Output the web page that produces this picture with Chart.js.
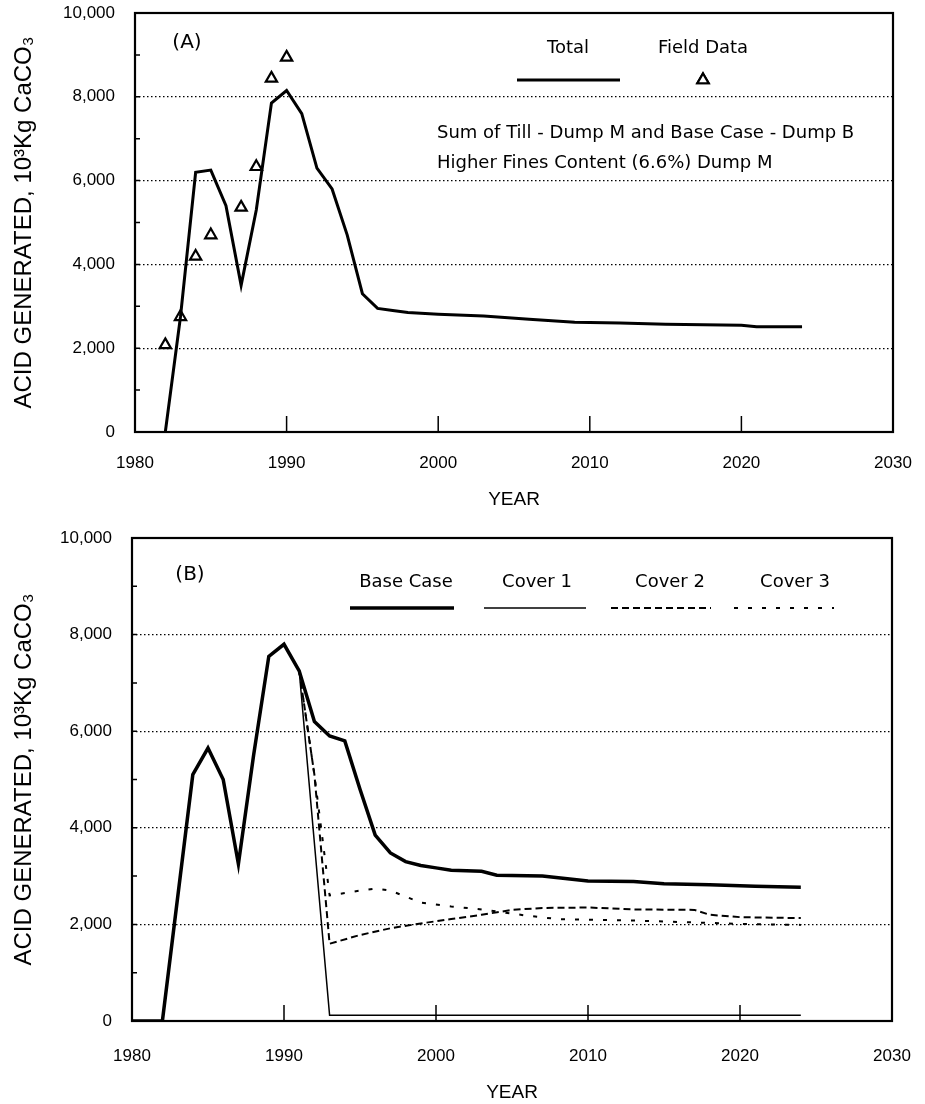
<!DOCTYPE html>
<html>
<head>
<meta charset="utf-8">
<script src="https://cdn.jsdelivr.net/npm/chart.js@4.4.0/dist/chart.umd.min.js"></script>
<style>
  body { margin: 0; background: #fff; width: 925px; height: 1104px; position: relative; overflow: hidden; }
  .box { position: absolute; left: 0; width: 925px; }
  #boxA { top: 0; height: 530px; }
  #boxB { top: 530px; height: 574px; }
</style>
</head>
<body>
<div class="box" id="boxA"><canvas id="chartA"></canvas></div>
<div class="box" id="boxB"><canvas id="chartB"></canvas></div>
<script>
// panel (A) - total and field data
const yearsTotal = [1982, 1983, 1984, 1985, 1986, 1987, 1988, 1989, 1990, 1991, 1992, 1993, 1994, 1995, 1996, 1997, 1998, 2000, 2003, 2006, 2009, 2012, 2015, 2020, 2021, 2024];
const total = [0, 2750, 6200, 6250, 5400, 3500, 5300, 7850, 8150, 7600, 6300, 5800, 4700, 3300, 2950, 2900, 2850, 2810, 2770, 2690, 2620, 2600, 2570, 2550, 2510, 2510];
const yearsField = [1982, 1983, 1984, 1985, 1987, 1988, 1989, 1990];
const fieldData = [2080, 2750, 4190, 4700, 5360, 6330, 8440, 8940];

// panel (B) - base case and covers
const yearsBase = [1980, 1981, 1982, 1984, 1985, 1986, 1987, 1988, 1989, 1990, 1991, 1992, 1993, 1994, 1995, 1996, 1997, 1998, 1999, 2000, 2001, 2003, 2004, 2007, 2010, 2013, 2015, 2018, 2021, 2024];
const baseCase = [0, 0, 0, 5100, 5650, 5000, 3250, 5500, 7550, 7800, 7250, 6200, 5900, 5800, 4800, 3850, 3480, 3300, 3220, 3170, 3120, 3100, 3020, 3000, 2900, 2890, 2840, 2820, 2790, 2770];
const yearsCover1 = [1991, 1993, 2024];
const cover1 = [7250, 120, 120];
const yearsCover2 = [1991, 1992, 1993, 1995, 1997, 1999, 2001, 2003, 2005, 2007, 2010, 2013, 2017, 2018, 2020, 2024];
const cover2 = [7250, 5100, 1600, 1780, 1920, 2020, 2110, 2200, 2300, 2340, 2350, 2310, 2300, 2200, 2150, 2130];
const yearsCover3 = [1991, 1992, 1993, 1995, 1996, 1997, 1999, 2001, 2003, 2006, 2008, 2013, 2020, 2024];
const cover3 = [7250, 5100, 2600, 2700, 2740, 2700, 2450, 2370, 2310, 2180, 2110, 2080, 2010, 1990];

const yTicks = [0, 2000, 4000, 6000, 8000, 10000];
const xTicks = [1980, 1990, 2000, 2010, 2020, 2030];

const tickFont = { family: 'Liberation Sans, Arial, sans-serif', size: 17 };
const labelFont = 'DejaVu Sans, Verdana, sans-serif';

function pts(xs, ys) {
  return xs.map((x, i) => ({ x: x, y: ys[i] }));
}

// frame, inside tick marks, legend and notes
const decor = {
  id: 'decor',
  afterDraw(chart, args, opts) {
    const { ctx, chartArea: a, scales: { x, y } } = chart;
    ctx.save();
    ctx.strokeStyle = '#000';
    ctx.fillStyle = '#000';
    ctx.lineWidth = 1.5;
    ctx.beginPath();
    for (let v = 1000; v < 10000; v += 1000) {
      const py = y.getPixelForValue(v);
      ctx.moveTo(a.left, py);
      ctx.lineTo(a.left + 5, py);
    }
    for (let i = 1; i < xTicks.length - 1; i++) {
      const px = x.getPixelForValue(xTicks[i]);
      ctx.moveTo(px, a.bottom);
      ctx.lineTo(px, a.bottom - 16);
    }
    ctx.stroke();
    ctx.lineWidth = 2.2;
    ctx.strokeRect(a.left, a.top, a.right - a.left, a.bottom - a.top);

    ctx.textAlign = 'center';
    ctx.textBaseline = 'middle';
    ctx.font = '20px ' + labelFont;
    ctx.fillText(opts.panel, opts.panelX, opts.panelY);

    ctx.font = '18px ' + labelFont;
    opts.items.forEach(it => {
      const ds = chart.data.datasets[it.ds];
      ctx.fillText(ds.label, it.cx, opts.textY);
      if (it.marker) {
        ctx.save();
        ctx.lineWidth = ds.borderWidth;
        Chart.helpers.drawPoint(ctx, { pointStyle: 'triangle', radius: ds.pointRadius, borderWidth: ds.borderWidth }, it.cx, opts.lineY);
        ctx.fillStyle = '#fff';
        ctx.strokeStyle = '#000';
        ctx.fill();
        ctx.stroke();
        ctx.restore();
      } else {
        ctx.save();
        ctx.lineWidth = ds.borderWidth;
        ctx.setLineDash(ds.borderDash || []);
        ctx.beginPath();
        ctx.moveTo(it.x1, opts.lineY);
        ctx.lineTo(it.x2, opts.lineY);
        ctx.stroke();
        ctx.restore();
      }
    });

    ctx.textAlign = 'left';
    (opts.notes || []).forEach(n => ctx.fillText(n.text, n.x, n.y));
    ctx.restore();
  }
};

function makeOptions(cfg) {
  return {
    responsive: true,
    maintainAspectRatio: false,
    animation: false,
    layout: { padding: { left: 0, right: cfg.right, top: cfg.top, bottom: 0 } },
    plugins: {
      legend: { display: false },
      tooltip: { enabled: false },
      decor: cfg.decor
    },
    scales: {
      x: {
        type: 'linear',
        min: 1980,
        max: 2030,
        afterBuildTicks: s => { s.ticks = xTicks.map(v => ({ value: v })); },
        ticks: { font: tickFont, color: '#000', padding: cfg.xPad, maxRotation: 0, callback: v => String(v) },
        grid: { display: false, drawTicks: false },
        border: { display: false },
        title: { display: true, text: 'YEAR', color: '#000', font: { family: tickFont.family, size: 19 }, padding: { top: 0, bottom: cfg.titlePad } },
        afterFit: s => { s.height = cfg.xHeight; s.paddingLeft = 0; s.paddingRight = 0; }
      },
      y: {
        min: 0,
        max: 10000,
        afterBuildTicks: s => { s.ticks = yTicks.map(v => ({ value: v })); },
        ticks: { font: tickFont, color: '#000', padding: 20, callback: v => v.toLocaleString('en-US') },
        grid: {
          drawTicks: false,
          lineWidth: 1.2,
          color: c => (c.tick && (c.tick.value === 0 || c.tick.value === 10000)) ? 'rgba(0,0,0,0)' : '#000'
        },
        border: { display: false, dash: [1.5, 2.5] },
        title: { display: true, text: 'ACID GENERATED, 10³Kg CaCO₃', color: '#000', font: { family: tickFont.family, size: 24 }, padding: { top: 10, bottom: 0 } },
        afterFit: s => { s.width = cfg.yWidth; s.paddingTop = 0; s.paddingBottom = 0; }
      }
    }
  };
}

new Chart(document.getElementById('chartA'), {
  type: 'line',
  data: {
    datasets: [
      { label: 'Total', data: pts(yearsTotal, total), borderColor: '#000', borderWidth: 3, pointRadius: 0, tension: 0 },
      { label: 'Field Data', data: pts(yearsField, fieldData), showLine: false, pointStyle: 'triangle', pointRadius: 6.5, borderWidth: 2.2, borderColor: '#000', pointBackgroundColor: '#fff' }
    ]
  },
  options: makeOptions({
    right: 32, top: 13, xHeight: 98, xPad: 21, titlePad: 19, yWidth: 135,
    decor: {
      panel: '(A)', panelX: 187, panelY: 43, textY: 48, lineY: 80,
      items: [
        { ds: 0, cx: 568, x1: 517, x2: 620 },
        { ds: 1, cx: 703, marker: true }
      ],
      notes: [
        { text: 'Sum of Till - Dump M and Base Case - Dump B', x: 437, y: 133 },
        { text: 'Higher Fines Content (6.6%) Dump M', x: 437, y: 163 }
      ]
    }
  }),
  plugins: [decor]
});

new Chart(document.getElementById('chartB'), {
  type: 'line',
  data: {
    datasets: [
      { label: 'Base Case', data: pts(yearsBase, baseCase), borderColor: '#000', borderWidth: 3.5, pointRadius: 0, tension: 0 },
      { label: 'Cover 1', data: pts(yearsCover1, cover1), borderColor: '#000', borderWidth: 1.5, pointRadius: 0, tension: 0 },
      { label: 'Cover 2', data: pts(yearsCover2, cover2), borderColor: '#000', borderWidth: 2, borderDash: [7, 4], pointRadius: 0, tension: 0 },
      { label: 'Cover 3', data: pts(yearsCover3, cover3), borderColor: '#000', borderWidth: 2, borderDash: [4, 10], pointRadius: 0, tension: 0 }
    ]
  },
  options: makeOptions({
    right: 33, top: 8, xHeight: 83, xPad: 25, titlePad: 0, yWidth: 132,
    decor: {
      panel: '(B)', panelX: 190, panelY: 45, textY: 52, lineY: 78,
      items: [
        { ds: 0, cx: 406, x1: 350, x2: 454 },
        { ds: 1, cx: 537, x1: 484, x2: 586 },
        { ds: 2, cx: 670, x1: 611, x2: 711 },
        { ds: 3, cx: 795, x1: 734, x2: 834 }
      ]
    }
  }),
  plugins: [decor]
});
</script>
</body>
</html>
